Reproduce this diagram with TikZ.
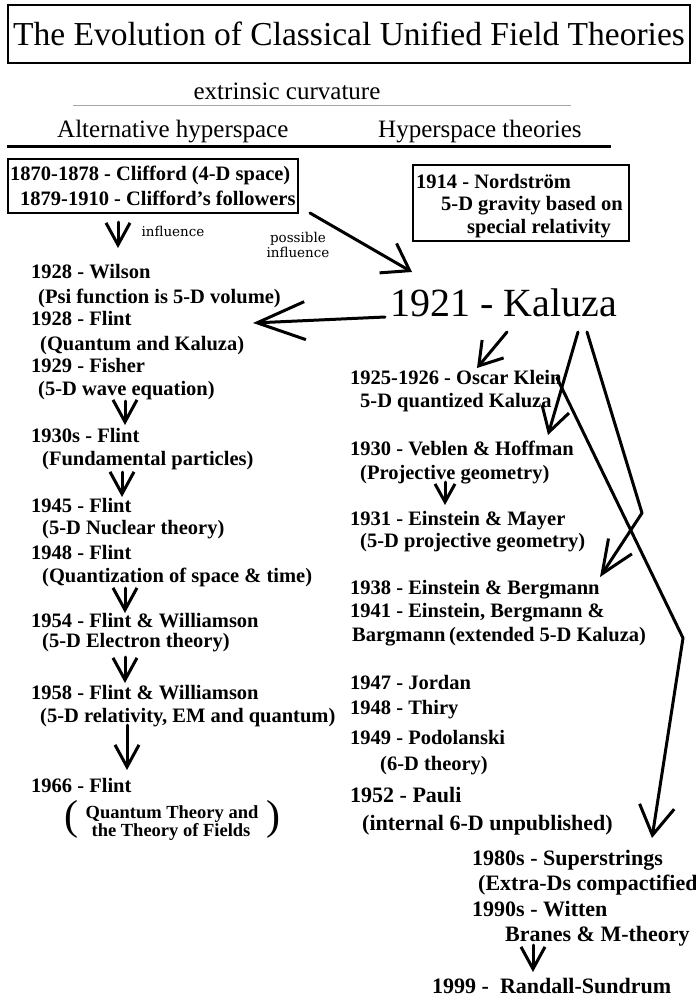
\documentclass[tikz,border=0pt]{standalone}
\usepackage{fontspec}
\setmainfont{Liberation Serif}
\newfontfamily\labelfont{DejaVu Serif}
\usetikzlibrary{arrows.meta}
\begin{document}
\begin{tikzpicture}[x=1pt,y=-1pt,
  txt/.style={anchor=base west, inner sep=0pt, font=\bfseries\fontsize{20.5}{24}\selectfont},
  txtbig/.style={anchor=base west, inner sep=0pt, font=\bfseries\fontsize{22}{26}\selectfont},
  head/.style={anchor=base west, inner sep=0pt, font=\fontsize{25}{30}\selectfont},
  lbl/.style={anchor=base, inner sep=0pt, font=\labelfont\fontsize{13.5}{15}\selectfont},
  frame/.style={draw, line width=2pt, inner sep=0pt},
  conn/.style={line width=3pt, line cap=round, line join=round},
  barb/.style 2 args={-{Straight Barb[length=#1pt,width=#2pt]}},
]
\useasboundingbox (0,0) rectangle (696,999);
\fill[white] (0,0) rectangle (696,999);
\clip (0,0) rectangle (696,999);

% title
\node[frame, line width=2.5pt, minimum width=682pt, minimum height=58pt,
      font=\fontsize{33.5}{40}\selectfont] (title) at (349,34)
      {The Evolution of Classical Unified Field Theories};

% headers
\node[anchor=base, inner sep=0pt, font=\fontsize{25}{30}\selectfont] (extr) at (287,99) {extrinsic curvature};
\coordinate (g1) at (73,105); \coordinate (g2) at (571,105);
\draw[gray!70, line width=1pt] (g1) -- (g2);
\node[head] (alt) at (57,137) {Alternative hyperspace};
\node[head] (hyp) at (378,137) {Hyperspace theories};
\coordinate (h1) at (7,146); \coordinate (h2) at (611,146);
\draw[line width=3pt] (h1) -- (h2);

% Clifford box
\node[frame, minimum width=290pt, minimum height=54pt, anchor=north west] (clifbox) at (7,158) {};
\node[txt] (clif1) at (10,180) {1870-1878 - Clifford (4-D space)};
\node[txt] (clif2) at (20,205) {1879-1910 - Clifford's followers};

% Nordstrom box
\node[frame, minimum width=216pt, minimum height=76pt, anchor=north west] (nordbox) at (412,164) {};
\node[txt] (nord1) at (416,188) {1914 - Nordström};
\node[txt] (nord2) at (441,210) {5-D gravity based on};
\node[txt] (nord3) at (467,233) {special relativity};

% labels
\node[lbl] (infl) at (173,236) {influence};
\node[lbl] (poss1) at (298,242) {possible};
\node[lbl] (poss2) at (298,257) {influence};

% Kaluza
\node[anchor=base west, inner sep=0pt, font=\fontsize{40}{48}\selectfont] (kaluza) at (390,316.5) {1921 - Kaluza};

% left column
\node[txt] (l1) at (31,278) {1928 - Wilson};
\node[txt] (l2) at (38,303) {(Psi function is 5-D volume)};
\node[txt] (l3) at (31,325) {1928 - Flint};
\node[txt] (l4) at (40,350) {(Quantum and Kaluza)};
\node[txt] (l5) at (31,372) {1929 - Fisher};
\node[txt] (l6) at (38,395) {(5-D wave equation)};
\node[txt] (l7) at (31,442) {1930s - Flint};
\node[txt] (l8) at (42,465) {(Fundamental particles)};
\node[txt] (l9) at (31,512) {1945 - Flint};
\node[txt] (l10) at (42,534) {(5-D Nuclear theory)};
\node[txt] (l11) at (31,559) {1948 - Flint};
\node[txt] (l12) at (42,582) {(Quantization of space \& time)};
\node[txt] (l13) at (31,627) {1954 - Flint \& Williamson};
\node[txt] (l14) at (42,647) {(5-D Electron theory)};
\node[txt] (l15) at (31,699) {1958 - Flint \& Williamson};
\node[txt] (l16) at (40,722) {(5-D relativity, EM and quantum)};
\node[txt] (l17) at (31,792) {1966 - Flint};
\node[anchor=base, inner sep=0pt, font=\bfseries\fontsize{18.5}{22}\selectfont] (q1) at (172,818) {Quantum Theory and};
\node[anchor=base, inner sep=0pt, font=\bfseries\fontsize{18.5}{22}\selectfont] (q2) at (171,836) {the Theory of Fields};
\node[inner sep=0pt, font=\fontsize{42}{48}\selectfont] (qpl) at (71,819) {(};
\node[inner sep=0pt, font=\fontsize{42}{48}\selectfont] (qpr) at (273,819) {)};

% right column
\node[txt] (r1) at (350,384) {1925-1926 - Oscar Klein};
\node[txt] (r2) at (360,407) {5-D quantized Kaluza};
\node[txt] (r3) at (350,455) {1930 - Veblen \& Hoffman};
\node[txt] (r4) at (360,479) {(Projective geometry)};
\node[txt] (r5) at (350,525) {1931 - Einstein \& Mayer};
\node[txt] (r6) at (360,547) {(5-D projective geometry)};
\node[txt] (r7) at (350,594) {1938 - Einstein \& Bergmann};
\node[txt] (r8) at (350,617) {1941 - Einstein, Bergmann \&};
\node[txt] (r9) at (352,641) {Bargmann\,(extended 5-D Kaluza)};
\node[txt] (r10) at (350,689) {1947 - Jordan};
\node[txt] (r11) at (350,714) {1948 - Thiry};
\node[txt] (r12) at (350,744) {1949 - Podolanski};
\node[txt] (r13) at (380,770) {(6-D theory)};
\node[txtbig] (r14) at (350,802) {1952 - Pauli};
\node[txtbig] (r15) at (362,830) {(internal 6-D unpublished)};

% bottom block
\node[txtbig] (b1) at (472,865) {1980s - Superstrings};
\node[txtbig] (b2) at (478,890) {(Extra-Ds compactified)};
\node[txtbig] (b3) at (472,916) {1990s - Witten};
\node[txtbig] (b4) at (505,941) {Branes \& M-theory};
\node[txtbig] (b5) at (432,993) {1999 -\ \ Randall-Sundrum};

% connector coordinates
\coordinate (a0s) at (118,222); \coordinate (a0e) at (118,248);
\coordinate (a1s) at (125,401); \coordinate (a1e) at (125,425);
\coordinate (a2s) at (122,472); \coordinate (a2e) at (122,497);
\coordinate (a3s) at (125,588); \coordinate (a3e) at (125,613);
\coordinate (a4s) at (125,657); \coordinate (a4e) at (125,683);
\coordinate (a5s) at (127,725); \coordinate (a5e) at (127,770);
\coordinate (ps) at (310,213); \coordinate (pe) at (412,272);
\coordinate (kfs) at (385,317); \coordinate (kfe) at (253,323);
\coordinate (kks) at (507,332); \coordinate (kke) at (477,368);
\coordinate (kvs) at (578,332); \coordinate (kve) at (548,435);
\coordinate (kbs) at (587,332); \coordinate (kbm) at (642,513); \coordinate (kbe) at (600,577);
\coordinate (kss) at (557,378); \coordinate (ksm) at (683,638); \coordinate (kse) at (652,838);
\coordinate (vms) at (445,482); \coordinate (vme) at (445,505);
\coordinate (wrs) at (533,945); \coordinate (wre) at (533,972);

% connectors
\draw[conn, barb={22}{24}] (a0s) -- (a0e);
\draw[conn, barb={22}{24}] (a1s) -- (a1e);
\draw[conn, barb={22}{24}] (a2s) -- (a2e);
\draw[conn, barb={22}{24}] (a3s) -- (a3e);
\draw[conn, barb={22}{24}] (a4s) -- (a4e);
\draw[conn, barb={22}{24}] (a5s) -- (a5e);
\draw[conn, barb={25}{34}] (ps) -- (pe);
\draw[conn, barb={48}{38}] (kfs) -- (kfe);
\draw[conn, barb={22}{28}] (kks) -- (kke);
\draw[conn, barb={24}{28}] (kvs) -- (kve);
\draw[conn, barb={33}{28}] (kbs) -- (kbm) -- (kbe);
\draw[conn, barb={29}{35}] (kss) -- (ksm) -- (kse);
\draw[conn, barb={18}{20}] (vms) -- (vme);
\draw[conn, barb={22}{24}] (wrs) -- (wre);
\end{tikzpicture}
\end{document}
